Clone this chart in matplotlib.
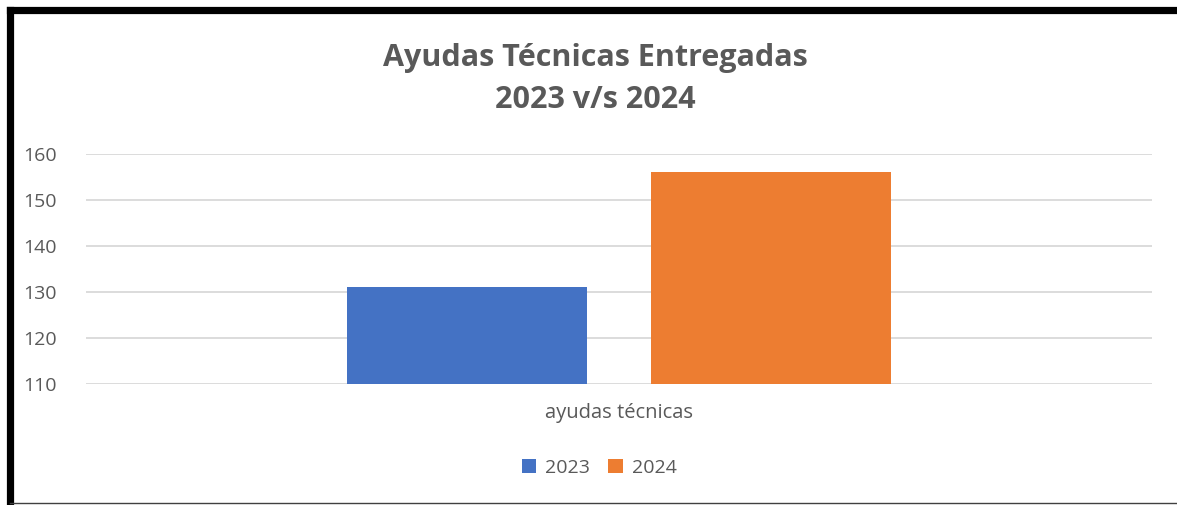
import matplotlib.pyplot as plt
from matplotlib.lines import Line2D
from matplotlib.patches import Patch

# data
category = "ayudas técnicas"
years = ["2023", "2024"]
values = [131, 156]
colors = ["#4472C4", "#ED7D31"]
y_ticks = [110, 120, 130, 140, 150, 160]

W, H = 1177, 505
fig = plt.figure(figsize=(W / 100, H / 100), dpi=100)
fig.patch.set_facecolor("white")

# plot area in pixels: x 86..1152, y 154..384
ax = fig.add_axes([86 / W, 1 - 384 / H, (1152 - 86) / W, (384 - 154) / H])

font = ["Open Sans", "DejaVu Sans"]
grey = "#595959"

bar_w = 240 / 1066
offset = 152 / 1066
for i, (yr, v, c) in enumerate(zip(years, values, colors)):
    x = -offset if i == 0 else offset
    ax.bar(x, v - 110, bottom=110, width=bar_w, color=c, zorder=3)

ax.set_xlim(-0.5, 0.5)
ax.set_ylim(110, 160)
ax.set_yticks(y_ticks)
ax.set_yticklabels([str(t) for t in y_ticks], family=font, fontsize=14, color=grey)
ax.tick_params(axis="y", length=0, pad=21)
ax.set_xticks([0])
ax.set_xticklabels([category], family=font, fontsize=14.5, color=grey)
ax.tick_params(axis="x", length=0, pad=14)
ax.grid(axis="y", color="#D9D9D9", linewidth=1.3, zorder=0)
for s in ax.spines.values():
    s.set_visible(False)

fig.text(595 / W, 1 - 79 / H, "Ayudas Técnicas Entregadas\n2023 v/s 2024",
         ha="center", va="center", family=font, fontsize=22, fontweight="bold",
         color=grey, linespacing=1.55)

handles = [Patch(facecolor=c, label=y) for y, c in zip(years, colors)]
fig.legend(handles=handles, loc="center", bbox_to_anchor=(599 / W, 1 - 468 / H),
           ncol=2, frameon=False, prop={"family": font, "size": 14},
           labelcolor=grey, handlelength=0.75, handleheight=0.75,
           handletextpad=0.45, columnspacing=0.95)

# outer frame: thick black on left/top, thin line at bottom
fig.add_artist(Line2D([9.5 / W, 9.5 / W], [1 - 503 / H, 1 - 9.5 / H], color="black",
                      linewidth=5.2, solid_capstyle="projecting"))
fig.add_artist(Line2D([9.5 / W, 1.0], [1 - 9.5 / H, 1 - 9.5 / H], color="black",
                      linewidth=5.2, solid_capstyle="projecting"))
fig.add_artist(Line2D([9.5 / W, 1.0], [1 - 503 / H, 1 - 503 / H], color="#404040",
                      linewidth=1.0))

fig.savefig("out.png", dpi=100)
